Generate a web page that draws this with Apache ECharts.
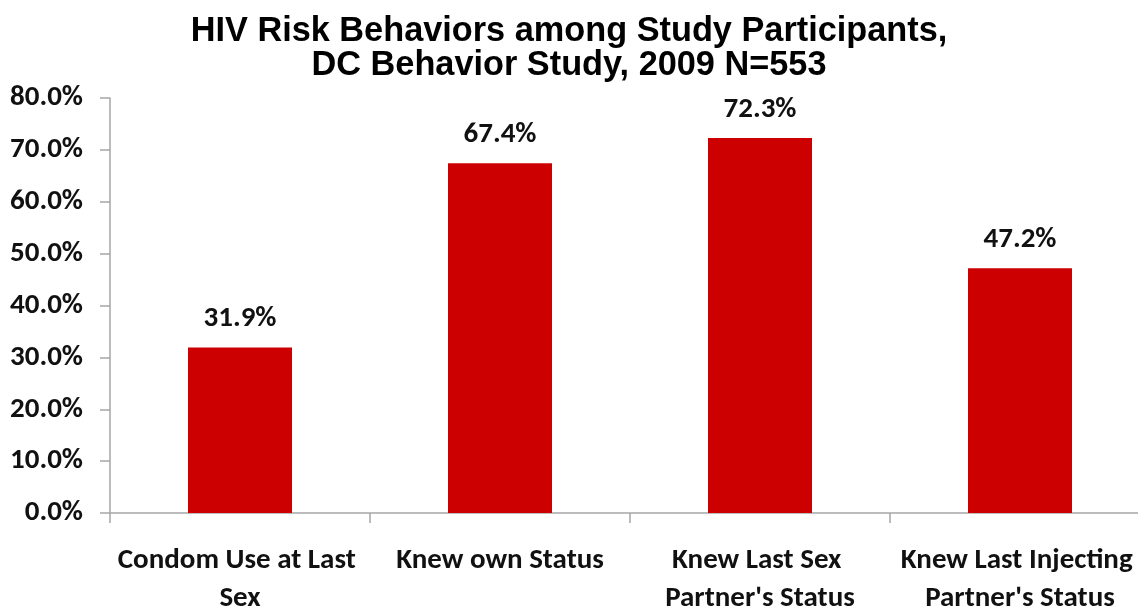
<!DOCTYPE html>
<html><head><meta charset="utf-8">
<script src="https://cdn.jsdelivr.net/npm/echarts@6/dist/echarts.min.js"></script>
<style>html,body{margin:0;padding:0;background:#fff}#c{width:1138px;height:611px}</style>
</head><body><div id="c"></div>
<script>
const titleLines = ["HIV Risk Behaviors among Study Participants,", "DC Behavior Study, 2009 N=553"];
const categories = ["Condom Use at Last Sex", "Knew own Status", "Knew Last Sex Partner's Status", "Knew Last Injecting Partner's Status"];
const values = [31.9, 67.4, 72.3, 47.2];
const yTicks = [0, 10, 20, 30, 40, 50, 60, 70, 80];

const labelFont = "Carlito, 'Liberation Sans Narrow', 'Open Sans', sans-serif";
const chart = echarts.init(document.getElementById('c'));
chart.setOption({
  animation: false,
  title: {
    text: titleLines.join('\n'),
    left: 'center', top: 10,
    textStyle: {fontFamily: "'Liberation Sans', Arial, sans-serif", fontSize: 34.3, fontWeight: 'bold', color: '#000', lineHeight: 34}
  },
  grid: {left: 110, width: 1040, top: 98, bottom: 98, containLabel: false, outerBoundsMode: 'none'},
  xAxis: {
    type: 'category', data: categories,
    axisLine: {lineStyle: {color: '#a6a6a6', width: 1.5}},
    axisTick: {show: true, length: 10, lineStyle: {color: '#a6a6a6', width: 1.5}},
    axisLabel: {interval: 0, margin: 29, width: 252, overflow: 'break', lineHeight: 38,
      fontFamily: labelFont, fontSize: 29, fontWeight: 'bold', color: '#111'}
  },
  yAxis: {
    type: 'value', min: yTicks[0], max: yTicks[yTicks.length-1], interval: 10,
    splitLine: {show: false},
    axisLine: {show: true, lineStyle: {color: '#a6a6a6', width: 1.5}},
    axisTick: {show: true, length: 10, lineStyle: {color: '#a6a6a6', width: 1.5}},
    axisLabel: {margin: 27, formatter: v => v.toFixed(1) + '%', fontFamily: labelFont, fontSize: 29, fontWeight: 'bold', color: '#111'}
  },
  series: [{
    type: 'bar', data: values, barWidth: '40%',
    itemStyle: {color: '#cc0000'},
    label: {show: true, position: 'top', distance: 14, formatter: p => p.value.toFixed(1) + '%',
      fontFamily: labelFont, fontSize: 29, fontWeight: 'bold', color: '#111'}
  }]
});
</script></body></html>
